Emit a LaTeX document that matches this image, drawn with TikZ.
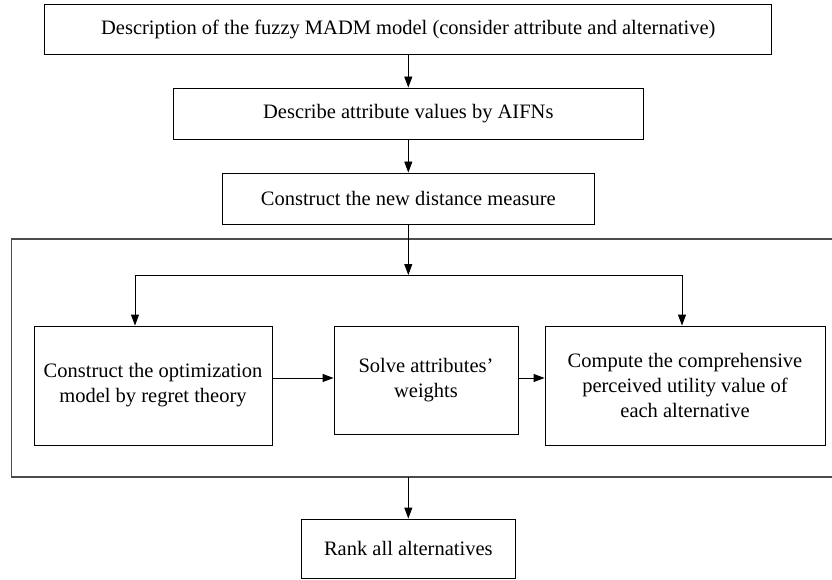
\documentclass[tikz,border=0pt]{standalone}
\usepackage{fontspec}
\setmainfont{Liberation Serif}
\usetikzlibrary{arrows.meta}

\begin{document}
\begin{tikzpicture}
            [every node/.style={inner sep=0pt},
             stage/.style={rectangle, draw=black, line width=0.9pt, fill=white, align=center, font=\fontsize{20.5}{25}\selectfont},
             flow/.style={line width=0.9pt, -{Triangle[length=11pt,width=8pt]}, color=black}]
                \useasboundingbox (0pt, 0pt) rectangle (832pt, -580pt);
                \node (1) [stage, minimum width=727pt, minimum height=50pt] at (408.3pt, -29pt) {Description of the fuzzy MADM model (consider attribute and alternative)};
                \node (2) [stage, minimum width=470pt, minimum height=51pt] at (408.3pt, -113.5pt) {Describe attribute values by AIFNs};
                \node (3) [stage, minimum width=372pt, minimum height=51pt] at (408.3pt, -198.5pt) {Construct the new distance measure};
                \node (4) [stage, minimum width=238pt, minimum height=119pt] at (153pt, -385.5pt) {Construct the optimization\\model by regret theory};
                \node (5) [stage, minimum width=184pt, minimum height=108pt] at (426pt, -380pt) {Solve attributes'\\weights};
                \node (6) [stage, minimum width=280pt, minimum height=119pt] at (685pt, -385.5pt) {Compute the comprehensive\\perceived utility value of\\each alternative};
                \node (7) [stage, minimum width=214pt, minimum height=59pt] at (408.3pt, -548.5pt) {Rank all alternatives};
                % open frame round the three middle steps
                \coordinate (ftop) at (408.3pt, -239pt);
                \coordinate (fbot) at (408.3pt, -477pt);
                \draw [line width=1.3pt, color=black!70] (832pt, -239pt) -- (11.7pt, -239pt) -- (11.7pt, -477pt) -- (832pt, -477pt);
                % split line
                \coordinate (s) at (408.3pt, -275pt);
                \coordinate (sl) at (135pt, -275pt);
                \coordinate (sr) at (682pt, -275pt);
                \draw [line width=0.9pt] (sl) -- (sr);
                \draw [flow] (1) to (2);
                \draw [flow] (2) to (3);
                \draw [flow] (3) to (s);
                \draw [flow] (sl) to (sl |- 4.north);
                \draw [flow] (sr) to (sr |- 6.north);
                \draw [flow] (4.east |- 0,-378pt) to (5.west |- 0,-378pt);
                \draw [flow] (5.east |- 0,-378pt) to (6.west |- 0,-378pt);
                \draw [flow] (fbot) to (7);
            \end{tikzpicture}
\end{document}
